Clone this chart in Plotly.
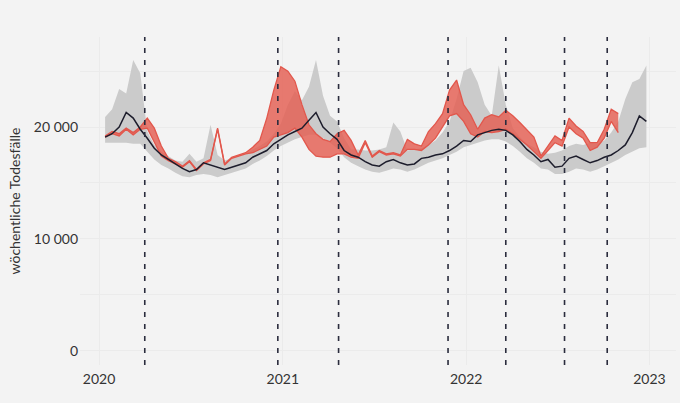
import pandas as pd
import plotly.graph_objects as go

# biweekly reporting dates
dates = pd.date_range("2020-01-13", periods=78, freq="14D")

# expected range (grey band) and expected value (dark line)
gray_lo = [18600, 18600, 18600, 18600, 18500, 18500, 17800, 17100, 16600, 16300,
           15900, 15600, 15500, 15700, 15800, 15700, 15500, 15700, 15900, 16100,
           16300, 16700, 17000, 17400, 17900, 18300, 18600, 18900, 19100, 19300,
           19300, 19000, 18600, 18100, 17300, 16800, 16500, 16200, 16000, 15900,
           16100, 16300, 16200, 16000, 16200, 16500, 16800, 17000, 17200, 17500,
           17800, 18200, 18400, 18600, 18800, 18900, 18900, 18700, 18300, 17800,
           17200, 16800, 16300, 16200, 15800, 15800, 16000, 16300, 16200, 16000,
           16200, 16500, 16800, 17100, 17500, 17800, 18100, 18200]
gray_hi = [20900, 21600, 23400, 23000, 26000, 24800, 19600, 18400, 17800, 17400,
           17000, 16900, 17600, 16900, 17200, 20200, 17500, 17000, 17200, 17400,
           17600, 18000, 18300, 18700, 19400, 20300, 22000, 23200, 22400, 23600,
           26000, 22800, 21000, 20500, 19000, 18000, 18000, 17900, 17900, 18000,
           18200, 20400, 19600, 17900, 18000, 18100, 18400, 18800, 19500, 20500,
           22500, 25000, 25300, 24000, 22000, 21000, 25500, 22000, 19900, 19100,
           18500, 18200, 17800, 17600, 17700, 17900, 18300, 18500, 18400, 18600,
           18500, 18800, 19500, 20500, 22500, 24000, 24300, 25500]
expected = [19100, 19400, 20000, 21300, 20800, 19800, 19000, 18100, 17500, 17100,
            16700, 16300, 16000, 16200, 16800, 16600, 16400, 16200, 16400, 16600,
            16800, 17300, 17600, 17900, 18500, 18900, 19300, 19600, 19900, 20600,
            21300, 20000, 19400, 18900, 17900, 17500, 17300, 16900, 16600, 16500,
            16900, 17100, 16800, 16600, 16700, 17200, 17300, 17500, 17600, 17900,
            18300, 18800, 18700, 19300, 19500, 19700, 19800, 19700, 19300, 18700,
            18000, 17500, 16900, 17100, 16400, 16500, 17200, 17400, 17100, 16800,
            17000, 17300, 17500, 17900, 18400, 19500, 21000, 20500]

# observed deaths (red band)
red_lo = [19100, 19400, 19200, 19800, 19300, 19800, 19900, 18600, 17400, 17000,
          16700, 16400, 16900, 16100, 16700, 17000, 19800, 16600, 17200, 17400,
          17600, 17700, 18000, 18300, 19100, 19300, 19500, 19900, 19100, 18000,
          17400, 17300, 17300, 17600, 17600, 17300, 17200, 18600, 17300, 17800,
          17500, 17600, 17400, 18000, 18000, 17900, 18400, 19000, 20000, 21000,
          21200, 20500, 19400, 19100, 19600, 19500, 19600, 19800, 19400, 18900,
          18400, 17800, 17200, 17900, 18600, 18300, 20000, 19400, 19000, 17900,
          18200, 19000, 20500, 19500]
red_hi = [19200, 19600, 19400, 19900, 19500, 20000, 20800, 19900, 18300, 17200,
          16900, 16500, 17000, 16200, 16800, 17100, 19900, 16700, 17300, 17500,
          17700, 18200, 18800, 20800, 23300, 25400, 25000, 24100, 22000, 20200,
          19400, 18900, 18700, 19400, 19700, 18800, 17500, 18800, 17400, 17900,
          17600, 17700, 17500, 18900, 18500, 18300, 19600, 20300, 21200, 23300,
          24200, 22000, 21100, 19800, 20800, 21100, 20900, 21500, 21000, 20400,
          19700, 19100, 17400, 18300, 19200, 18800, 20800, 20100, 19600, 18600,
          18600, 19800, 21600, 21200]

event_dates = ["2020-04-01", "2020-12-22", "2021-04-22", "2021-11-26",
               "2022-03-21", "2022-07-16", "2022-10-09"]

y_ticks = [0, 5000, 10000, 15000, 20000, 25000]
y_labels = ["0", "", "10 000", "", "20 000", ""]

RED = "#e2574c"
BG = "#f3f3f3"
GRID = "#ebebeb"

fig = go.Figure()

fig.add_trace(go.Scatter(x=dates, y=gray_lo, mode="lines", line=dict(width=0),
                         hoverinfo="skip", showlegend=False))
fig.add_trace(go.Scatter(x=dates, y=gray_hi, mode="lines", line=dict(width=0),
                         fill="tonexty", fillcolor="#cbcbcb", showlegend=False))

red_dates = dates[:len(red_lo)]
fig.add_trace(go.Scatter(x=red_dates, y=red_lo, mode="lines",
                         line=dict(color=RED, width=1.3), showlegend=False))
fig.add_trace(go.Scatter(x=red_dates, y=red_hi, mode="lines",
                         line=dict(color=RED, width=1.3),
                         fill="tonexty", fillcolor="rgba(228,94,82,0.82)", showlegend=False))

fig.add_trace(go.Scatter(x=dates, y=expected, mode="lines",
                         line=dict(color="#1d1d2c", width=1.5), showlegend=False))

for d in event_dates:
    fig.add_shape(type="line", xref="x", yref="paper", x0=d, x1=d, y0=0, y1=1,
                  line=dict(color="#2a2c3d", width=1.6, dash="5px,7px"))

fig.update_layout(
    width=680, height=403,
    margin=dict(l=80, r=4, t=37, b=38),
    paper_bgcolor=BG, plot_bgcolor=BG,
    font=dict(family="Lato", size=14, color="#333333"),
    showlegend=False,
)
fig.update_xaxes(
    range=["2019-11-24", "2023-02-23"],
    tick0="2020-01-01", dtick="M12", tickformat="%Y",
    showgrid=True, gridcolor=GRID, zeroline=False, showline=False,
    ticklabelstandoff=4, automargin=False,
)
fig.update_yaxes(
    range=[-1280, 28050],
    tickmode="array", tickvals=y_ticks, ticktext=y_labels,
    showgrid=True, gridcolor=GRID, zeroline=False, showline=False,
    ticklabelstandoff=1, automargin=False,
    title=dict(text="wöchentliche Todesfälle", standoff=9, font=dict(size=14)),
)

# drop the default page margin so the figure sits at the window's corner
fig.write_html("out.html", config={"displayModeBar": False},
               post_script="document.body.style.margin='0';"
                           "document.body.style.background='#f3f3f3';")
